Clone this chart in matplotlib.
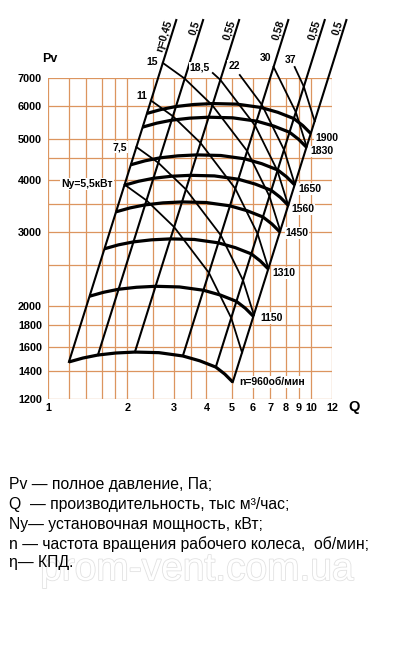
import matplotlib
matplotlib.use('Agg')
import matplotlib.pyplot as plt
import matplotlib.patheffects as pe
from matplotlib.ticker import NullLocator

plt.rcParams['font.family'] = ['Liberation Sans', 'DejaVu Sans']

# сетка и подписи осей
q_grid = [1, 1.2, 1.4, 1.6, 1.8, 2, 2.5, 3, 3.5, 4, 5, 6, 7, 8, 9, 10, 12]
p_grid = [1200, 1400, 1600, 1800, 2000, 2500, 3000, 3500, 4000, 4500, 5000, 6000, 7000]
q_ticks = [1, 2, 3, 4, 5, 6, 7, 8, 9, 10, 12]
p_ticks = [1200, 1400, 1600, 1800, 2000, 3000, 4000, 5000, 6000, 7000]

# кривые Pv(Q) для разных оборотов
speeds = [960, 1150, 1310, 1450, 1560, 1650, 1830, 1900]
speed_labels = ['n=960об/мин', '1150', '1310', '1450', '1560', '1650', '1830', '1900']
q_960 = [1.201, 1.358, 1.548, 1.811, 2.139, 2.638, 3.253, 3.775, 4.341, 4.696, 5.036]
p_960 = [1471, 1503, 1528, 1545, 1553, 1548, 1520, 1480, 1430, 1376, 1317]
q_1150 = [1.439, 1.627, 1.854, 2.169, 2.562, 3.160, 3.897, 4.522, 5.200, 5.625, 6.033]
p_1150 = [2111, 2157, 2193, 2217, 2229, 2221, 2181, 2124, 2052, 1975, 1890]
q_1310 = [1.639, 1.853, 2.112, 2.471, 2.919, 3.600, 4.439, 5.151, 5.924, 6.408, 6.872]
p_1310 = [2739, 2799, 2845, 2877, 2892, 2883, 2830, 2756, 2663, 2562, 2452]
q_1450 = [1.814, 2.051, 2.338, 2.735, 3.231, 3.984, 4.913, 5.702, 6.557, 7.093, 7.606]
p_1450 = [3356, 3429, 3486, 3525, 3543, 3532, 3468, 3377, 3262, 3139, 3005]
q_1560 = [1.952, 2.207, 2.516, 2.943, 3.476, 4.287, 5.286, 6.134, 7.054, 7.631, 8.184]
p_1560 = [3884, 3969, 4035, 4080, 4101, 4088, 4014, 3908, 3776, 3634, 3478]
q_1650 = [2.064, 2.334, 2.661, 3.113, 3.676, 4.534, 5.591, 6.488, 7.461, 8.071, 8.656]
p_1650 = [4346, 4440, 4514, 4564, 4588, 4573, 4490, 4372, 4224, 4065, 3891]
q_1830 = [2.289, 2.589, 2.951, 3.452, 4.078, 5.029, 6.201, 7.196, 8.275, 8.952, 9.600]
p_1830 = [5345, 5462, 5552, 5614, 5643, 5625, 5523, 5378, 5196, 5000, 4786]
q_1900 = [2.377, 2.688, 3.064, 3.584, 4.233, 5.221, 6.438, 7.471, 8.592, 9.294, 9.967]
p_1900 = [5762, 5887, 5985, 6052, 6083, 6064, 5954, 5797, 5602, 5390, 5159]
speed_q = [q_960, q_1150, q_1310, q_1450, q_1560, q_1650, q_1830, q_1900]
speed_p = [p_960, p_1150, p_1310, p_1450, p_1560, p_1650, p_1830, p_1900]
speed_offsets = [(5, 0), (5, -1), (3, -3), (4, -1), (2, -3), (3, -3), (3, -3), (3, -3)]

# линии КПД
eff_labels = ['η=0,45', '0,5', '0,55', '0,58', '0,55', '0,5']
eff_q_low = [1.201, 1.548, 2.139, 3.253, 4.341, 5.036]
eff_p_low = [1471, 1528, 1553, 1520, 1430, 1317]
eff_q_top = [3.072, 3.885, 5.325, 8.187, 11.26, 13.61]
eff_p_top = [9625, 9625, 9625, 9625, 9625, 9625]

# линии мощности
pow_labels = ['Ny=5,5кВт', '7,5', '11', '15', '18,5', '22', '30', '37']
q_n55 = [1.955, 2.367, 3.016, 4.088, 4.968, 5.462]
p_n55 = [3896, 3573, 3086, 2400, 1873, 1549]
q_n75 = [2.167, 2.625, 3.344, 4.534, 5.509, 6.057]
p_n75 = [4791, 4394, 3795, 2952, 2303, 1905]
q_n11 = [2.463, 2.983, 3.799, 5.151, 6.260, 6.881]
p_n11 = [6184, 5673, 4899, 3810, 2973, 2459]
q_n15 = [2.731, 3.308, 4.213, 5.713, 6.941, 7.632]
p_n15 = [7605, 6975, 6024, 4686, 3656, 3024]
q_n185 = [4.228, 4.518, 6.126, 7.444, 8.183]
p_n185 = [7195, 6928, 5388, 4205, 3477]
q_n22 = [5.355, 6.491, 7.886, 8.670]
p_n22 = [7116, 6049, 4720, 3903]
q_n30 = [7.197, 8.745, 9.614]
p_n30 = [7438, 5804, 4800]
q_n37 = [8.656, 9.378, 10.31]
p_n37 = [7436, 6675, 5520]
pow_q = [q_n55, q_n75, q_n11, q_n15, q_n185, q_n22, q_n30, q_n37]
pow_p = [p_n55, p_n75, p_n11, p_n15, p_n185, p_n22, p_n30, p_n37]
pow_offsets = [(-8.5, 0.5), (-6.5, 0), (-3, 3), (-3.5, 1), (-2, 4), (0, 6.5), (-1.4, 6.5), (1.5, 5.4)]

legend_lines = ['Pv — полное давление, Па;',
                'Q  — производительность, тыс м³/час;',
                'Ny— установочная мощность, кВт;',
                'n — частота вращения рабочего колеса,  об/мин;',
                'η— КПД.']

grid_col = '#dc955f'

fig = plt.figure(figsize=(3.94, 6.47), dpi=100)
ax = fig.add_axes([48 / 394, 1 - 399 / 647, 284 / 394, 321 / 647])
ax.set_xscale('log')
ax.set_yscale('log')
ax.set_xlim(1, 12)
ax.set_ylim(1200, 7000)
for s in ax.spines.values():
    s.set_visible(False)

for q in q_grid:
    ax.axvline(q, color=grid_col, lw=0.9, zorder=1)
for p in p_grid:
    ax.axhline(p, color=grid_col, lw=0.9, zorder=1)

ax.xaxis.set_minor_locator(NullLocator())
ax.yaxis.set_minor_locator(NullLocator())
ax.set_xticks(q_ticks)
ax.set_xticklabels([str(t) for t in q_ticks], fontsize=7.8, fontweight='bold')
ax.set_yticks(p_ticks)
ax.set_yticklabels([str(t) for t in p_ticks], fontsize=7.8, fontweight='bold')
ax.tick_params(axis='x', length=0, pad=3.0)
ax.tick_params(axis='y', length=0, pad=4.3)

lbl_box = dict(boxstyle='square,pad=0.08', fc='white', ec='none')

for q, p, lab, off in zip(speed_q, speed_p, speed_labels, speed_offsets):
    ax.plot(q, p, color='black', lw=2.3, clip_on=False, zorder=4, solid_capstyle='butt')
    ax.annotate(lab, xy=(q[-1], p[-1]), xytext=off, textcoords='offset points',
                ha='left', va='center', fontsize=7.5, fontweight='bold',
                bbox=lbl_box, annotation_clip=False, zorder=5)

for i in range(len(eff_labels)):
    ax.plot([eff_q_low[i], eff_q_top[i]], [eff_p_low[i], eff_p_top[i]],
            color='black', lw=1.5, clip_on=False, zorder=3)
    ax.annotate(eff_labels[i], xy=(eff_q_top[i], eff_p_top[i]), xytext=(-1.5, -1.5),
                textcoords='offset points', rotation=72.5, rotation_mode='anchor',
                ha='right', va='bottom', fontsize=7.5, fontweight='bold',
                annotation_clip=False)

for q, p, lab, off in zip(pow_q, pow_p, pow_labels, pow_offsets):
    ax.plot(q, p, color='black', lw=1.3, clip_on=False, zorder=3)
    ax.annotate(lab, xy=(q[0], p[0]), xytext=off, textcoords='offset points',
                ha='right', va='center', fontsize=7.5, fontweight='bold',
                bbox=lbl_box, annotation_clip=False, zorder=5)

fig.text(50 / 394, 1 - 59 / 647, 'Pv', fontsize=9, fontweight='bold', ha='center', va='center')
fig.text(354 / 394, 1 - 407 / 647, 'Q', fontsize=10.5, fontweight='bold', ha='center', va='center')

# водяной знак, как на исходной картинке
fig.text(197 / 394, 1 - 570 / 647, 'prom-vent.com.ua', fontsize=28, color='white',
         ha='center', va='center', zorder=0,
         path_effects=[pe.withStroke(linewidth=1.2, foreground='#e2e2e2')])

y_leg = [484, 505, 525, 544, 563]
for txt, y in zip(legend_lines, y_leg):
    fig.text(9 / 394, 1 - y / 647, txt, fontsize=11.3, ha='left', va='center', zorder=2)

fig.savefig('out.png', dpi=100)
